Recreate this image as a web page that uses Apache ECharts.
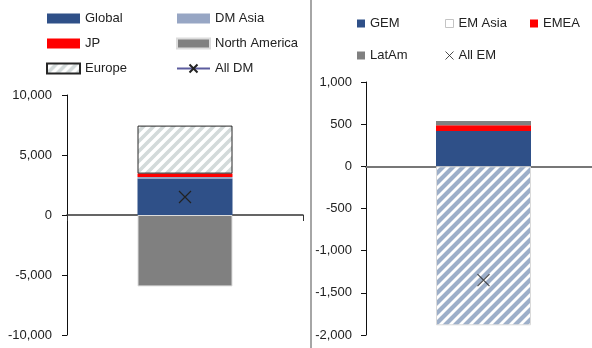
<!DOCTYPE html>
<html>
<head>
<meta charset="utf-8">
<script src="https://cdn.jsdelivr.net/npm/echarts@6/dist/echarts.min.js"></script>
<style>
  html, body { margin: 0; padding: 0; background: #fff; }
  #chart { width: 592px; height: 348px; }
</style>
</head>
<body>
<div id="chart"></div>
<script>
// DM panel values
const dmCategory = ['DM'];
const dmGlobal = [3050];
const dmAsia = [120];
const dmJP = [280];
const dmNorthAmerica = [-5950];
const dmEurope = [4000];
const allDM = [1500];
const dmAxis = [-10000, 10000, 5000];

// EM panel values
const emCategory = ['EM'];
const emGEM = [418];
const emEMEA = [68];
const emLatAm = [51];
const emAsia = [-1885];
const allEM = [-1350];
const emAxis = [-2000, 1000, 500];

function stripes(bg, fg, w) {
  var s = 10;
  var c = document.createElement('canvas');
  c.width = s; c.height = s;
  var ctx = c.getContext('2d');
  ctx.fillStyle = bg;
  ctx.fillRect(0, 0, s, s);
  ctx.strokeStyle = fg;
  ctx.lineWidth = w;
  ctx.beginPath();
  ctx.moveTo(-2, 2); ctx.lineTo(2, -2);
  ctx.moveTo(0, s); ctx.lineTo(s, 0);
  ctx.moveTo(s - 2, s + 2); ctx.lineTo(s + 2, s - 2);
  ctx.stroke();
  return { image: c, repeat: 'repeat' };
}

var font = 'Liberation Sans';
var cross = 'path://M0,0L10,10M10,0L0,10';
var fmt = function (v) { return v.toLocaleString('en-US'); };
var legendText = { fontSize: 13, color: '#222', fontFamily: font };

function yAxis(idx, ax, margin) {
  return {
    type: 'value', gridIndex: idx,
    min: ax[0], max: ax[1], interval: ax[2],
    axisLine: { show: true, lineStyle: { color: '#111', width: 1 } },
    axisTick: { show: true, length: 5, lineStyle: { color: '#111' } },
    splitLine: { show: false },
    axisLabel: { formatter: fmt, color: '#222', fontFamily: font, fontSize: 13, margin: margin }
  };
}

var chart = echarts.init(document.getElementById('chart'), null, { renderer: 'canvas' });
chart.setOption({
  backgroundColor: '#fff',
  animation: false,
  textStyle: { fontFamily: font },
  grid: [
    { left: 67, width: 236, top: 95, bottom: 13, outerBoundsMode: 'none' },
    { left: 366, width: 235, top: 82, bottom: 13, outerBoundsMode: 'none' }
  ],
  xAxis: [
    {
      type: 'category', gridIndex: 0, data: dmCategory,
      axisLine: { onZero: true, lineStyle: { color: '#333', width: 1.5 } },
      axisTick: { show: true, length: 6, lineStyle: { color: '#333' } },
      axisLabel: { show: false }
    },
    {
      type: 'category', gridIndex: 1, data: emCategory,
      axisLine: { onZero: true, lineStyle: { color: '#777', width: 2 } },
      axisTick: { show: false },
      axisLabel: { show: false }
    }
  ],
  yAxis: [yAxis(0, dmAxis, 15), yAxis(1, emAxis, 14)],
  legend: [
    {
      left: 46, top: 12, orient: 'vertical', padding: 0, itemGap: 12,
      itemWidth: 33, itemHeight: 10, icon: 'rect', textStyle: legendText,
      data: ['Global', 'JP', 'Europe']
    },
    {
      left: 176, top: 12, orient: 'vertical', padding: 0, itemGap: 12,
      itemWidth: 33, itemHeight: 10, textStyle: legendText,
      data: [{ name: 'DM Asia', icon: 'rect' }, { name: 'North America', icon: 'rect' }, 'All DM']
    },
    {
      left: 357, top: 17, orient: 'vertical', padding: 0, itemGap: 19,
      itemWidth: 8, itemHeight: 8, icon: 'rect', textStyle: legendText,
      data: ['GEM', 'LatAm']
    },
    {
      left: 443, top: 17, orient: 'vertical', padding: 0, itemGap: 19,
      itemWidth: 8, itemHeight: 8, textStyle: legendText,
      data: [
        { name: 'EM Asia', icon: 'rect', itemStyle: { color: '#fff', borderColor: '#c4c4c4', borderWidth: 1 } },
        { name: 'All EM', icon: cross, itemStyle: { color: 'none', borderColor: '#222', borderWidth: 1 } }
      ]
    },
    {
      left: 530, top: 17, orient: 'vertical', padding: 0, itemGap: 19,
      itemWidth: 8, itemHeight: 8, icon: 'rect', textStyle: legendText,
      data: ['EMEA']
    }
  ],
  graphic: [
    { type: 'line', shape: { x1: 311, y1: 0, x2: 311, y2: 348 }, style: { stroke: '#a6a6a6', lineWidth: 2 } }
  ],
  series: [
    { name: 'Global', type: 'bar', stack: 'dm', xAxisIndex: 0, yAxisIndex: 0, barWidth: 95,
      itemStyle: { color: '#2f5088' }, data: dmGlobal },
    { name: 'DM Asia', type: 'bar', stack: 'dm', xAxisIndex: 0, yAxisIndex: 0, barWidth: 95,
      itemStyle: { color: '#97a6c4' }, data: dmAsia },
    { name: 'JP', type: 'bar', stack: 'dm', xAxisIndex: 0, yAxisIndex: 0, barWidth: 95,
      itemStyle: { color: '#ff0000' }, data: dmJP },
    { name: 'North America', type: 'bar', stack: 'dm', xAxisIndex: 0, yAxisIndex: 0, barWidth: 95,
      itemStyle: { color: '#808080', borderColor: '#dcdcdc', borderWidth: 1 }, data: dmNorthAmerica },
    { name: 'Europe', type: 'bar', stack: 'dm', xAxisIndex: 0, yAxisIndex: 0, barWidth: 95,
      itemStyle: { color: stripes('#ffffff', '#d3dada', 3.6), borderColor: '#262626', borderWidth: 1 }, data: dmEurope },
    { name: 'All DM', type: 'line', xAxisIndex: 0, yAxisIndex: 0, z: 5,
      symbol: cross, symbolSize: 12,
      lineStyle: { color: '#5c5c9e', width: 1.5 },
      itemStyle: { color: 'none', borderColor: '#222', borderWidth: 1.2 },
      data: allDM },

    { name: 'GEM', type: 'bar', stack: 'em', xAxisIndex: 1, yAxisIndex: 1, barWidth: 95,
      itemStyle: { color: '#2f5088' }, data: emGEM },
    { name: 'EMEA', type: 'bar', stack: 'em', xAxisIndex: 1, yAxisIndex: 1, barWidth: 95,
      itemStyle: { color: '#ff0000' }, data: emEMEA },
    { name: 'LatAm', type: 'bar', stack: 'em', xAxisIndex: 1, yAxisIndex: 1, barWidth: 95,
      itemStyle: { color: '#808080' }, data: emLatAm },
    { name: 'EM Asia', type: 'bar', stack: 'em', xAxisIndex: 1, yAxisIndex: 1, barWidth: 95,
      itemStyle: { color: stripes('#ffffff', '#9dafc9', 4.2), borderColor: '#dadada', borderWidth: 1 }, data: emAsia },
    { name: 'All EM', type: 'scatter', xAxisIndex: 1, yAxisIndex: 1, z: 5,
      symbol: cross, symbolSize: 12,
      itemStyle: { color: 'none', borderColor: '#222', borderWidth: 1.2 },
      data: allEM }
  ]
});
</script>
</body>
</html>
